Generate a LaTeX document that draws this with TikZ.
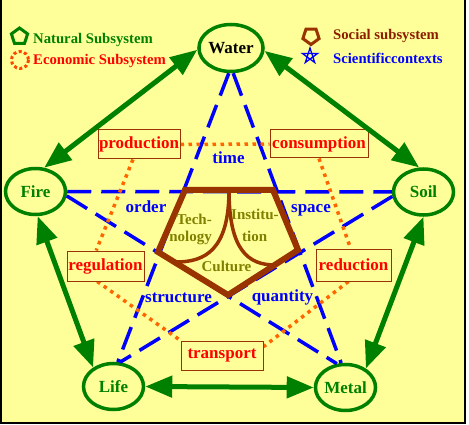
\documentclass[tikz,border=0pt]{standalone}
\usepackage{fontspec}
\setmainfont{Liberation Serif}
\usetikzlibrary{arrows.meta,shapes.geometric,calc}
\definecolor{bgyellow}{RGB}{255,255,153}
\definecolor{dgreen}{RGB}{0,128,0}
\definecolor{brownish}{RGB}{153,51,0}
\definecolor{olivetext}{RGB}{128,128,0}
\definecolor{dotorange}{RGB}{255,102,0}
\definecolor{iconorange}{RGB}{255,70,0}
\definecolor{socialtext}{RGB}{140,30,0}
\newcommand{\lblfont}{\fontsize{17}{17}\selectfont\bfseries}
\newcommand{\legfont}{\fontsize{14.7}{14.7}\selectfont\bfseries}
\newcommand{\socfont}{\fontsize{15}{15}\selectfont\bfseries}
\begin{document}
\begin{tikzpicture}[x=1pt,y=-1pt,
  element/.style={ellipse, draw=dgreen, line width=3.5pt, minimum width=60pt, minimum height=46pt, inner sep=0pt, text=dgreen, font=\lblfont},
  ecobox/.style={draw=brownish, line width=1pt, fill=bgyellow, text=red, font=\lblfont, inner sep=0pt, minimum height=29pt},
  ctx/.style={draw=blue, line width=3.5pt, dash pattern=on 24pt off 10pt},
  eco/.style={draw=dotorange, line width=3.5pt, dash pattern=on 3.5pt off 4.5pt},
  garrow/.style={draw=dgreen, line width=5pt, arrows={Triangle[length=27pt,width=21pt]-Triangle[length=27pt,width=21pt]}},
  ctxlabel/.style={text=blue, font=\lblfont, inner sep=0pt, anchor=base},
  soclabel/.style={text=olivetext, font=\socfont, inner sep=0pt},
  legtext/.style={font=\legfont, inner sep=0pt, anchor=base west},
  social/.style={draw=brownish, line width=6pt, line join=miter},
  socialcurve/.style={draw=brownish, line width=3.5pt}
]
\useasboundingbox (0,0) rectangle (469,425);
\fill[white] (0,0) rectangle (469,425);
\fill[bgyellow] (0,0) rectangle (465,423);
\draw[black, line width=1.5pt] (0.75,0) -- (0.75,423) -- (465,423) -- (465,0);

% element nodes
\node[element, minimum width=62pt, minimum height=47pt, text=black] (Water) at (231,48) {Water};
\node[element] (Fire) at (35.5,191.5) {Fire};
\node[element] (Soil) at (423.5,192) {Soil};
\node[element] (Life) at (113.5,386.5) {Life};
\node[element] (Metal) at (345.5,387.5) {Metal};

% economic boxes
\node[ecobox, minimum width=82pt] (production) at (139,144.5) {production};
\node[ecobox, minimum width=98pt, minimum height=28pt] (consumption) at (319,144) {consumption};
\node[ecobox, minimum width=77pt, minimum height=30pt] (regulation) at (105.5,266) {regulation};
\node[ecobox, minimum width=75pt, minimum height=32pt] (reduction) at (353.5,265) {reduction};
\node[ecobox, minimum width=82pt] (transport) at (222,355.5) {transport};

% scientific contexts (blue dashed pentagram)
\begin{scope}[on background layer/.style={}]
\draw[ctx] (Fire.east) -- (Soil.west);
\draw[ctx] (Water.-95) -- (Life.80);
\draw[ctx] (Water.-85) -- (Metal.100);
\draw[ctx] (Fire.-8) -- (Metal.110);
\draw[ctx] (Soil.188) -- (Life.75);
\end{scope}

% economic dotted pentagon
\draw[eco] (production.east) -- (consumption.west);
\draw[eco] (production.-112) -- (regulation.121);
\draw[eco] (consumption.south) -- (reduction.100);
\draw[eco] (regulation.-118) -- (transport.north west);
\draw[eco] (reduction.-107) -- (transport.12);

% redraw boxes on top
\node[ecobox, minimum width=82pt] at (139,144.5) {production};
\node[ecobox, minimum width=98pt, minimum height=28pt] at (319,144) {consumption};
\node[ecobox, minimum width=77pt, minimum height=30pt] at (105.5,266) {regulation};
\node[ecobox, minimum width=75pt, minimum height=32pt] at (353.5,265) {reduction};
\node[ecobox, minimum width=82pt] at (222,355.5) {transport};

% context labels
\node[ctxlabel] (time) at (228.5,164) {time};
\node[ctxlabel] (order) at (146,213) {order};
\node[ctxlabel] (space) at (311,212) {space};
\node[ctxlabel] (structure) at (178.5,302) {structure};
\node[ctxlabel] (quantity) at (282.5,301) {quantity};

% social pentagon
\coordinate (pTL) at (185,190);
\coordinate (pTR) at (273,190);
\coordinate (pR) at (298,250);
\coordinate (pB) at (228,295);
\coordinate (pL) at (158,252);
\coordinate (pTop) at (229,190);
\draw[socialcurve] (pTop) .. controls (229,250) and (205,262) .. (176,262);
\draw[socialcurve] (pTop) .. controls (229,250) and (248,265) .. (275,265);
\draw[social] (pTL) -- (pTR) -- (pR) -- (pB) -- (pL) -- cycle;

% social labels
\node[soclabel, anchor=base east] (tech) at (212,225) {Tech-};
\node[soclabel, anchor=base east] (nology) at (212,242) {nology};
\node[soclabel, anchor=base west] (instit) at (231,220) {Institu-};
\node[soclabel, anchor=base west] (tion) at (242,242) {tion};
\node[soclabel, anchor=base] (culture) at (226.5,272) {Culture};

% green arrows
\draw[garrow] (Fire.70) -- (Water.183);
\draw[garrow] (Water.-5) -- (Soil.100);
\draw[garrow] (Fire.-85) -- (Life.137);
\draw[garrow] (Soil.-90) -- (Metal.43);
\draw[garrow] (Life.east) -- (Metal.west);

% legend icons
\draw[dgreen, line width=3pt, line join=miter] (19.5,28) -- (11.4,33.9) -- (14.5,43.4) -- (24.5,43.4) -- (27.6,33.9) -- cycle;
\draw[iconorange, line width=3pt, dash pattern=on 3pt off 2.5pt] (20,60) circle[radius=8.5];
\draw[brownish, line width=3pt, line join=miter] (311,44.5) -- (319.1,38.6) -- (316,29.1) -- (306,29.1) -- (302.9,38.6) -- cycle;
\draw[blue, line width=1.3pt, line join=miter] (310,48) -- (305.3,62.5) -- (317.6,53.5) -- (302.4,53.5) -- (314.7,62.5) -- cycle;

% legend texts
\node[legtext, text=dgreen] (natlbl) at (33,43.5) {Natural Subsystem};
\node[legtext, text=red] (ecolbl) at (33,65) {Economic Subsystem};
\node[legtext, text=socialtext] (soclbl) at (333,40) {Social subsystem};
\node[legtext, text=blue] (scilbl) at (333,64) {Scientificcontexts};
\end{tikzpicture}
\end{document}
